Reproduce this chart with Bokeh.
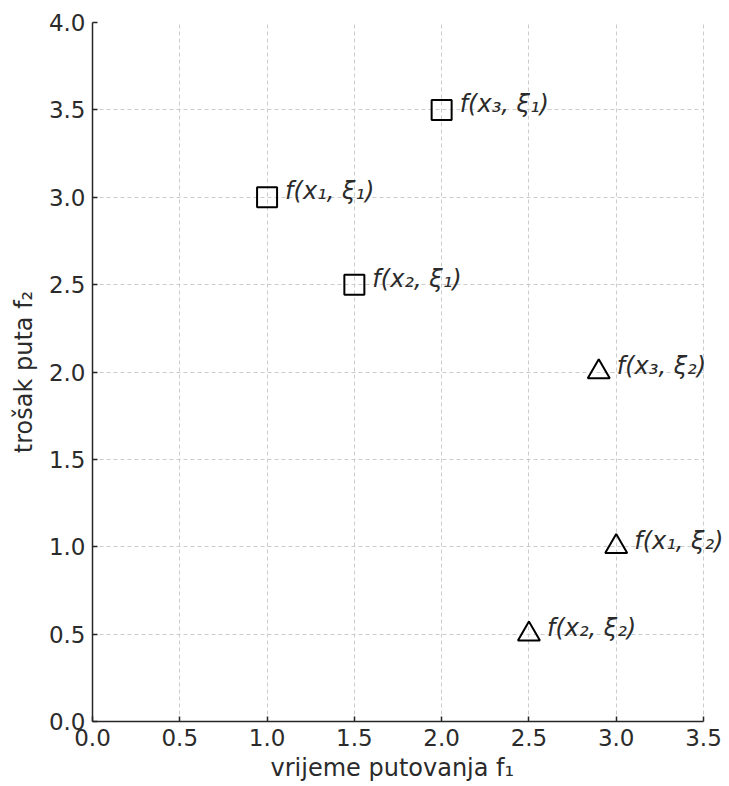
from bokeh.plotting import figure
from bokeh.models import ColumnDataSource, FixedTicker, PrintfTickFormatter, Range1d, Label, Title
from bokeh.embed import file_html
from bokeh.resources import INLINE

# data
sq_x = [1.0, 1.5, 2.0]
sq_y = [3.0, 2.5, 3.5]
sq_labels = ["f(x\u2081, \u03be\u2081)", "f(x\u2082, \u03be\u2081)", "f(x\u2083, \u03be\u2081)"]
tr_x = [2.9, 3.0, 2.5]
tr_y = [2.0, 1.0, 0.5]
tr_labels = ["f(x\u2083, \u03be\u2082)", "f(x\u2081, \u03be\u2082)", "f(x\u2082, \u03be\u2082)"]
x_ticks = [0.0, 0.5, 1.0, 1.5, 2.0, 2.5, 3.0, 3.5]
y_ticks = [0.0, 0.5, 1.0, 1.5, 2.0, 2.5, 3.0, 3.5, 4.0]
x_label = "vrijeme putovanja f\u2081"
y_label = "trošak puta f\u2082"

FONT = "DejaVu Sans"
TXT = "#2b2b2b"

W, H = 729, 786
LEFT, RIGHT_AX = 92, 703  # frame left edge and pixel where x axis ends
x_lo, x_hi = x_ticks[0], x_ticks[-1]
# extend the frame to the canvas edge so that labels are not clipped
x_end = x_lo + (x_hi - x_lo) * (W - LEFT) / (RIGHT_AX - LEFT)

p = figure(width=W, height=H, output_backend="svg", toolbar_location=None,
           x_range=Range1d(x_lo, x_end), y_range=Range1d(y_ticks[0], y_ticks[-1]),
           min_border_left=LEFT, min_border_right=0, min_border_top=22, min_border_bottom=65)
p.outline_line_color = None
p.background_fill_color = "white"

for ax, tk in ((p.xaxis, x_ticks), (p.yaxis, y_ticks)):
    ax.ticker = FixedTicker(ticks=tk)
    ax.formatter = PrintfTickFormatter(format="%.1f")
    ax.major_label_text_font = FONT
    ax.major_label_text_font_size = "23px"
    ax.major_label_text_color = TXT
    ax.axis_line_color = "#262626"
    ax.axis_line_width = 1.5
    ax.major_tick_line_color = "#262626"
    ax.major_tick_line_width = 1.5
    ax.major_tick_in = 5
    ax.major_tick_out = 0
    ax.minor_tick_line_color = None
    ax.axis_label_text_font = FONT
    ax.axis_label_text_font_size = "24px"
    ax.axis_label_text_font_style = "normal"
    ax.axis_label_text_color = TXT
    ax.axis_label_standoff = 8
    ax.major_label_standoff = 7

p.xaxis.bounds = (x_lo, x_hi)
p.yaxis.axis_label = y_label

p.add_layout(Title(text=x_label, align="left", offset=178, text_font=FONT,
                   text_font_size="24px", text_font_style="normal", text_color=TXT,
                   standoff=7), "below")

p.grid.grid_line_color = "#cccccc"
p.grid.grid_line_dash = "4 3"
p.grid.grid_line_width = 1
p.ygrid.cross_bounds = (x_lo, x_hi)

sq = ColumnDataSource(dict(x=sq_x, y=sq_y))
tr = ColumnDataSource(dict(x=tr_x, y=tr_y))

p.scatter("x", "y", source=sq, marker="square", size=20, fill_color=None,
          line_color="black", line_width=2)
p.scatter("x", "y", source=tr, marker="triangle", size=22, fill_color=None,
          line_color="black", line_width=2)

for xs, ys, ts in ((sq_x, sq_y, sq_labels), (tr_x, tr_y, tr_labels)):
    for xv, yv, tv in zip(xs, ys, ts):
        p.add_layout(Label(x=xv, y=yv, text=tv, x_offset=18, y_offset=6,
                           text_font=FONT, text_font_size="24px", text_font_style="italic",
                           text_color=TXT, text_baseline="middle", text_align="left"))

open("out.html", "w").write(file_html(p, INLINE))
